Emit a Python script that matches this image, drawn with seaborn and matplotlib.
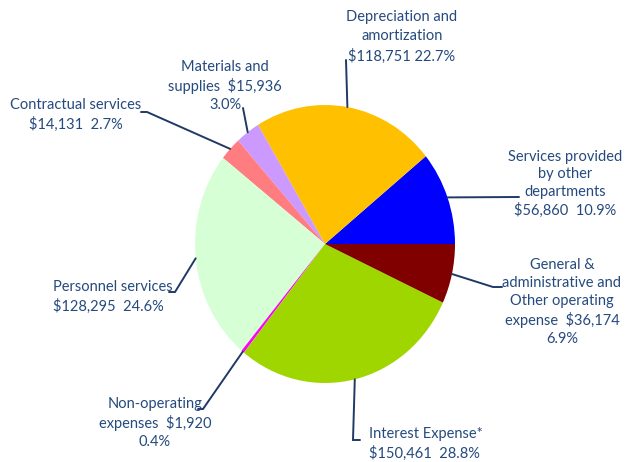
import numpy as np
import matplotlib
matplotlib.use('Agg')
import matplotlib.pyplot as plt
import seaborn as sns

sns.set_theme(style='white')
plt.rcParams['font.family'] = ['Lato', 'DejaVu Sans']

# data (in thousands of $), counter-clockwise from 3 o'clock
categories = ['Services provided by other departments', 'Depreciation and amortization',
              'Materials and supplies', 'Contractual services', 'Personnel services',
              'Non-operating expenses', 'Interest Expense*',
              'General & administrative and Other operating expense']
amounts = [56860, 118751, 15936, 14131, 128295, 1920, 150461, 36174]
colors = ['#0000FF', '#FFC000', '#CC99FF', '#FF7C80', '#D6FFD6', '#FF00FF', '#A0D600', '#800000']

# label layout as drawn in the reference
label_tpl = ['Services provided\nby other\ndepartments\n{a}  {p}',
             'Depreciation and\namortization\n{a} {p}',
             'Materials and\nsupplies  {a}\n{p}',
             'Contractual services\n{a}  {p}',
             'Personnel services\n{a}  {p}',
             'Non-operating\nexpenses  {a}\n{p}',
             'Interest Expense*\n{a}  {p}',
             'General &\nadministrative and\nOther operating\nexpense  {a}\n{p}']
label_pos = [(565, 184, 'center'), (402, 37, 'center'), (225, 86, 'center'),
             (76, 115, 'center'), (53, 297, 'left'), (155, 423, 'center'),
             (369, 444, 'left'), (562, 302, 'center')]
leader_pts = [[(519, 197)], [(346, 60)], [(243, 108)], [(147, 112), (141, 112)],
              [(175, 292), (169, 292)], [(203, 409), (198, 409)],
              [(353, 440), (360, 440)], [(493, 287), (502, 287)]]

W, H = 634, 462
cx, cy, rx, ry = 325, 244, 130, 139
text_color = '#254A7E'

fig = plt.figure(figsize=(W / 100, H / 100), dpi=100)

# pie axes (slightly taller than wide like the reference)
ax = fig.add_axes([(cx - rx) / W, (H - cy - ry) / H, 2 * rx / W, 2 * ry / H])
ax.pie(amounts, colors=colors, startangle=0, counterclock=True, radius=1,
       wedgeprops=dict(linewidth=0))
ax.set_xlim(-1, 1)
ax.set_ylim(-1, 1)
ax.set_aspect('auto')
ax.axis('off')

# overlay in pixel coordinates for labels & leader lines
ov = fig.add_axes([0, 0, 1, 1])
ov.set_xlim(0, W)
ov.set_ylim(H, 0)
ov.axis('off')

total = sum(amounts)
cum = np.cumsum([0] + amounts[:-1])
for i, v in enumerate(amounts):
    ang = np.deg2rad(360 * (cum[i] + v / 2) / total)
    ex, ey = cx + rx * np.cos(ang), cy - ry * np.sin(ang)
    pts = [(ex, ey)] + leader_pts[i]
    ov.plot([p[0] for p in pts], [p[1] for p in pts], color='#1F3A66', lw=1.4,
            solid_joinstyle='miter')
    txt = label_tpl[i].format(a=f'${v:,}', p=f'{100 * v / total:.1f}%')
    x, y, ha = label_pos[i]
    ov.text(x, y, txt, ha=ha, va='center', multialignment=ha, fontsize=10.5,
            color=text_color, linespacing=1.45 if i == 1 else 1.33)

plt.savefig('out.png', dpi=100)
